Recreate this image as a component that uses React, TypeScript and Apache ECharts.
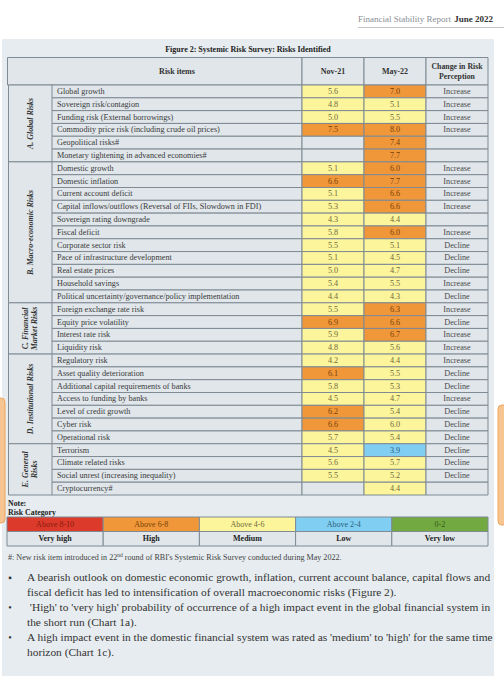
import React, { useEffect, useRef } from "react";
import * as echarts from "echarts";

const riskItems = [
  "Global growth",
  "Sovereign risk/contagion",
  "Funding risk (External borrowings)",
  "Commodity price risk (including crude oil prices)",
  "Geopolitical risks#",
  "Monetary tightening in advanced economies#",
  "Domestic growth",
  "Domestic inflation",
  "Current account deficit",
  "Capital inflows/outflows (Reversal of FIIs, Slowdown in FDI)",
  "Sovereign rating downgrade",
  "Fiscal deficit",
  "Corporate sector risk",
  "Pace of infrastructure development",
  "Real estate prices",
  "Household savings",
  "Political uncertainty/governance/policy implementation",
  "Foreign exchange rate risk",
  "Equity price volatility",
  "Interest rate risk",
  "Liquidity risk",
  "Regulatory risk",
  "Asset quality deterioration",
  "Additional capital requirements of banks",
  "Access to funding by banks",
  "Level of credit growth",
  "Cyber risk",
  "Operational risk",
  "Terrorism",
  "Climate related risks",
  "Social unrest (increasing inequality)",
  "Cryptocurrency#",
];

const nov21: (number | null)[] = [
  5.6, 4.8, 5.0, 7.5, null, null,
  5.1, 6.6, 5.1, 5.3, 4.3, 5.8, 5.5, 5.1, 5.0, 5.4, 4.4,
  5.5, 6.9, 5.9, 4.8,
  4.2, 6.1, 5.8, 4.5, 6.2, 6.6, 5.7,
  4.5, 5.6, 5.5, null,
];

const may22: (number | null)[] = [
  7.0, 5.1, 5.5, 8.0, 7.4, 7.7,
  6.0, 7.7, 6.6, 6.6, 4.4, 6.0, 5.1, 4.5, 4.7, 5.5, 4.3,
  6.3, 6.6, 6.7, 5.6,
  4.4, 5.5, 5.3, 4.7, 5.4, 6.0, 5.4,
  3.9, 5.7, 5.2, 4.4,
];

const changeInPerception = [
  "Increase", "Increase", "Increase", "Increase", "", "",
  "Increase", "Increase", "Increase", "Increase", "", "Increase", "Decline", "Decline", "Decline", "Increase", "Decline",
  "Increase", "Decline", "Increase", "Increase",
  "Increase", "Decline", "Decline", "Increase", "Decline", "Decline", "Decline",
  "Decline", "Decline", "Decline", "",
];

// cells whose rounded value shows 6.0 but were rated "Medium" in the source
const mediumBandCells = [{ period: "May-22", item: "Cyber risk" }];

const sectionNames = [
  "A. Global Risks",
  "B. Macro-economic Risks",
  "C. Financial\nMarket Risks",
  "D. Institutional Risks",
  "E. General\nRisks",
];
const sectionSizes = [6, 11, 4, 7, 4];

const valueColumns = ["Nov-21", "May-22", "Change in Risk Perception"];

const legendRanges = ["Above 8-10", "Above 6-8", "Above 4-6", "Above 2-4", "0-2"];
const legendNames = ["Very high", "High", "Medium", "Low", "Very low"];

const bulletLines = [
  ["A bearish outlook on domestic economic growth, inflation, current account balance, capital flows and",
    "fiscal deficit has led to intensification of overall macroeconomic risks (Figure 2)."],
  [" 'High' to 'very high' probability of occurrence of a high impact event in the global financial system in",
    "the short run (Chart 1a)."],
  ["A high impact event in the domestic financial system was rated as 'medium' to 'high' for the same time",
    "horizon (Chart 1c)."],
];

const FONT = "'Liberation Serif', 'DejaVu Serif', serif";
const PANEL = "#e6ecef";
const CELL = "#e0e6ea";
const BORDER = "#7f8a93";
const BAND_FILL = ["#dc3a2a", "#f0973a", "#fdf59b", "#80cff2", "#73a941"];
const BAND_TEXT = ["#8a1a10", "#7a4208", "#6e6a40", "#2a5f80", "#2f5a18"];
const CELL_FS = 8.2;

function bandOf(v: number): number {
  if (v > 8) return 0;
  if (v >= 6) return 1;
  if (v > 4) return 2;
  if (v > 2) return 3;
  return 4;
}

const TABLE_TOP = 85;
const TABLE_H = 410;

export default function App() {
  const ref = useRef<HTMLDivElement>(null);

  useEffect(() => {
    document.body.style.margin = "0";
    const chart = echarts.init(ref.current!, null, { renderer: "svg" });

    const sectionData: number[][] = [];
    let s = 0;
    sectionSizes.forEach((n) => {
      sectionData.push([0, s, s + n - 1]);
      s += n;
    });

    const valueData: any[] = [];
    riskItems.forEach((item, i) => {
      [nov21[i], may22[i]].forEach((v, c) => {
        let band = -1;
        if (v !== null) {
          band = bandOf(v);
          if (mediumBandCells.some((m) => m.item === item && m.period === valueColumns[c])) band = 2;
        }
        valueData.push({
          value: [c, i],
          text: v === null ? "" : v.toFixed(1),
          fill: band < 0 ? CELL : BAND_FILL[band],
          color: band < 0 ? "#444" : BAND_TEXT[band],
        });
      });
      valueData.push({ value: [2, i], text: changeInPerception[i], fill: CELL, color: "#4a4a4a" });
    });

    const hiddenAxis = (type: string, data: string[], idx: number, inverse = false) => ({
      type,
      data,
      gridIndex: idx,
      inverse,
      show: false,
    });

    const rowAxis = (idx: number) => hiddenAxis("category", riskItems, idx, true);

    const option: any = {
      animation: false,
      grid: [
        { left: 8, width: 44, top: TABLE_TOP, height: TABLE_H },
        { left: 52, width: 250, top: TABLE_TOP, height: TABLE_H },
        { left: 302, width: 186, top: TABLE_TOP, height: TABLE_H },
        { left: 7, width: 481, top: 517, height: 29 },
      ],
      xAxis: [
        hiddenAxis("category", ["section"], 0),
        hiddenAxis("category", ["Risk items"], 1),
        hiddenAxis("category", valueColumns, 2),
        hiddenAxis("category", legendNames, 3),
      ],
      yAxis: [
        rowAxis(0),
        rowAxis(1),
        rowAxis(2),
        hiddenAxis("category", ["range", "name"], 3, true),
      ],
      graphic: [
        { type: "rect", z: -5, shape: { x: 2, y: 39, width: 492, height: 637 }, style: { fill: PANEL } },
        { type: "line", shape: { x1: 358, y1: 27.5, x2: 504, y2: 27.5 }, style: { stroke: "#c4c4c4", lineWidth: 1 } },
        {
          type: "text", x: 493, y: 19,
          style: {
            text: "{a|Financial Stability Report} {b|June 2022}",
            align: "right", verticalAlign: "middle",
            rich: {
              a: { fill: "#8a8f94", fontSize: 9, fontFamily: FONT },
              b: { fill: "#333", fontSize: 9, fontWeight: "bold", fontFamily: FONT },
            },
          },
        },
        {
          type: "text", x: 248, y: 49,
          style: { text: "Figure 2: Systemic Risk Survey: Risks Identified", align: "center", verticalAlign: "middle", fontSize: 8, fontWeight: "bold", fontFamily: FONT, fill: "#222" },
        },
        { type: "rect", shape: { x: 7.5, y: 57.5, width: 294.5, height: 27.5 }, style: { fill: CELL, stroke: BORDER, lineWidth: 1 } },
        { type: "rect", shape: { x: 302, y: 57.5, width: 62, height: 27.5 }, style: { fill: CELL, stroke: BORDER, lineWidth: 1 } },
        { type: "rect", shape: { x: 364, y: 57.5, width: 62, height: 27.5 }, style: { fill: CELL, stroke: BORDER, lineWidth: 1 } },
        { type: "rect", shape: { x: 426, y: 57.5, width: 62, height: 27.5 }, style: { fill: CELL, stroke: BORDER, lineWidth: 1 } },
        { type: "text", x: 177, y: 71, style: { text: "Risk items", align: "center", verticalAlign: "middle", fontSize: 8, fontWeight: "bold", fontFamily: FONT, fill: "#333" } },
        { type: "text", x: 333, y: 71, style: { text: valueColumns[0], align: "center", verticalAlign: "middle", fontSize: 8, fontWeight: "bold", fontFamily: FONT, fill: "#333" } },
        { type: "text", x: 395, y: 71, style: { text: valueColumns[1], align: "center", verticalAlign: "middle", fontSize: 8, fontWeight: "bold", fontFamily: FONT, fill: "#333" } },
        { type: "text", x: 457, y: 71, style: { text: "Change in Risk\nPerception", lineHeight: 10, align: "center", verticalAlign: "middle", fontSize: 7.8, fontWeight: "bold", fontFamily: FONT, fill: "#333" } },
        { type: "text", x: 8, y: 503, style: { text: "Note:", verticalAlign: "middle", fontSize: 7.8, fontWeight: "bold", fontFamily: FONT, fill: "#222" } },
        { type: "text", x: 8, y: 512, style: { text: "Risk Category", verticalAlign: "middle", fontSize: 7.8, fontWeight: "bold", fontFamily: FONT, fill: "#222" } },
        {
          type: "text", x: 8, y: 557,
          style: {
            text: "{t|#: New risk item introduced in 22}{s|nd}{t| round of RBI's Systemic Risk Survey conducted during May 2022.}",
            verticalAlign: "middle",
            rich: {
              t: { fontSize: 8.1, fontFamily: FONT, fill: "#444" },
              s: { fontSize: 5.5, fontFamily: FONT, fill: "#444", verticalAlign: "top", padding: [0, 0, 4, 0] },
            },
          },
        },
        ...bulletLines.flatMap((lines, b) => {
          const y0 = 577 + b * 30;
          return [
            { type: "text", x: 10, y: y0, style: { text: b === 0 ? "▪" : "•", align: "center", verticalAlign: "middle", fontSize: 10, fontFamily: FONT, fill: "#333" } },
            ...lines.map((ln, k) => ({
              type: "text", x: 27, y: y0 + k * 15,
              style: { text: ln, verticalAlign: "middle", fontSize: 11.4, fontFamily: FONT, fill: "#333" },
            })),
          ];
        }),
        { type: "rect", z: 10, shape: { x: -6, y: 398, width: 11, height: 125, r: 4 }, style: { fill: "#f6c591", stroke: "#eea55c", lineWidth: 1 } },
        { type: "rect", z: 10, shape: { x: 498, y: 405, width: 12, height: 120, r: 4 }, style: { fill: "#f6c591", stroke: "#eea55c", lineWidth: 1 } },
      ],
      series: [
        {
          type: "custom",
          xAxisIndex: 0,
          yAxisIndex: 0,
          data: sectionData,
          renderItem: (params: any, api: any) => {
            const start = api.value(1);
            const end = api.value(2);
            const [w, h] = api.size([1, 1]);
            const cx = api.coord([0, start])[0];
            const top = api.coord([0, start])[1] - h / 2;
            const bottom = api.coord([0, end])[1] + h / 2;
            return {
              type: "group",
              children: [
                { type: "rect", shape: { x: cx - w / 2 + 0.5, y: top, width: w, height: bottom - top }, style: { fill: CELL, stroke: BORDER, lineWidth: 1 } },
                {
                  type: "text", x: cx, y: (top + bottom) / 2, rotation: Math.PI / 2,
                  style: { text: sectionNames[params.dataIndex], align: "center", verticalAlign: "middle", lineHeight: 9.5, fontSize: 8, fontWeight: "bold", fontStyle: "italic", fontFamily: FONT, fill: "#333" },
                },
              ],
            };
          },
        },
        {
          type: "custom",
          xAxisIndex: 1,
          yAxisIndex: 1,
          data: riskItems.map((_, i) => [0, i]),
          renderItem: (params: any, api: any) => {
            const [cx, cy] = api.coord([api.value(0), api.value(1)]);
            const [w, h] = api.size([1, 1]);
            return {
              type: "group",
              children: [
                { type: "rect", shape: { x: cx - w / 2, y: cy - h / 2, width: w, height: h }, style: { fill: CELL, stroke: BORDER, lineWidth: 1 } },
                { type: "text", x: cx - w / 2 + 5, y: cy, style: { text: riskItems[params.dataIndex], verticalAlign: "middle", fontSize: CELL_FS, fontFamily: FONT, fill: "#3a3a3a" } },
              ],
            };
          },
        },
        {
          type: "custom",
          xAxisIndex: 2,
          yAxisIndex: 2,
          data: valueData,
          renderItem: (params: any, api: any) => {
            const [cx, cy] = api.coord([api.value(0), api.value(1)]);
            const [w, h] = api.size([1, 1]);
            const d = valueData[params.dataIndex];
            return {
              type: "group",
              children: [
                { type: "rect", shape: { x: cx - w / 2, y: cy - h / 2, width: w, height: h }, style: { fill: d.fill, stroke: BORDER, lineWidth: 1 } },
                { type: "text", x: cx, y: cy, style: { text: d.text, align: "center", verticalAlign: "middle", fontSize: CELL_FS, fontFamily: FONT, fill: d.color } },
              ],
            };
          },
        },
        {
          type: "custom",
          xAxisIndex: 3,
          yAxisIndex: 3,
          data: legendNames.flatMap((_, i) => [[i, 0], [i, 1]]),
          renderItem: (params: any, api: any) => {
            const i = api.value(0);
            const r = api.value(1);
            const [cx, cy] = api.coord([i, r]);
            const [w, h] = api.size([1, 1]);
            return {
              type: "group",
              children: [
                { type: "rect", shape: { x: cx - w / 2, y: cy - h / 2, width: w, height: h }, style: { fill: r === 0 ? BAND_FILL[i] : CELL, stroke: BORDER, lineWidth: 1 } },
                {
                  type: "text", x: cx, y: cy,
                  style: {
                    text: r === 0 ? legendRanges[i] : legendNames[i],
                    align: "center", verticalAlign: "middle", fontSize: 8,
                    fontWeight: r === 0 ? "normal" : "bold", fontFamily: FONT,
                    fill: r === 0 ? BAND_TEXT[i] : "#222",
                  },
                },
              ],
            };
          },
        },
      ],
    };

    chart.setOption(option);
    return () => chart.dispose();
  }, []);

  return <div ref={ref} style={{ width: 504, height: 680, background: "#fff" }} />;
}
